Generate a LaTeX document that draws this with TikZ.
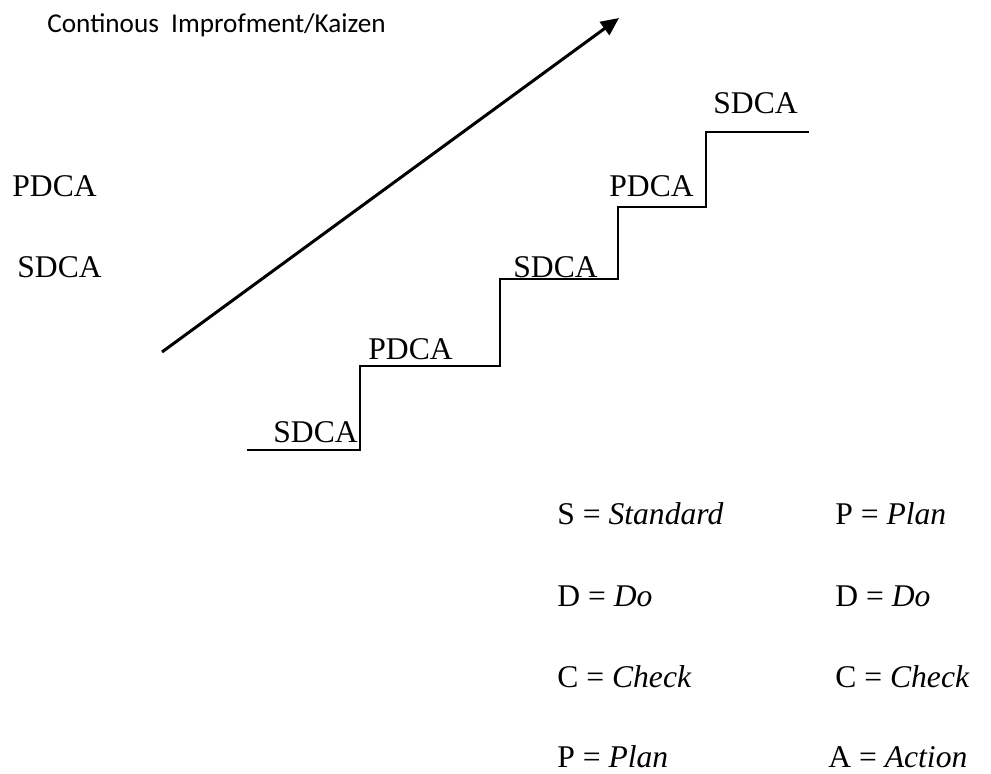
\documentclass[tikz,border=0pt]{standalone}
\usepackage{fontspec}
\setmainfont{Liberation Serif}
\newfontfamily\calibrifont{Carlito}
\usetikzlibrary{arrows.meta,positioning}

\begin{document}
\begin{tikzpicture}[
      x=0.5pt, y=-0.5pt,
      lbl/.style={anchor=base west, inner sep=0pt, font=\fontsize{15.8}{19}\selectfont},
      title/.style={anchor=base west, inner sep=0pt, font=\calibrifont\fontsize{13.6}{16}\selectfont},
      stair/.style={line width=1pt},
      rise/.style={-{Triangle[length=9pt, width=8pt]}, line width=1.5pt}
    ]
    \useasboundingbox (0,0) rectangle (991,774);
    % title and side labels
    \node[title] (kaizen) at (47,33) {Continous\ \ Improfment/Kaizen};
    \node[lbl] (pdcaleft) at (12,197) {PDCA};
    \node[lbl] (sdcaleft) at (17,278) {SDCA};
    % improvement arrow
    \coordinate (arrowtail) at (162,352);
    \coordinate (arrowtip) at (619,18);
    \draw[rise] (arrowtail) -- (arrowtip);
    % staircase
    \coordinate (s0) at (247,450);
    \coordinate (s1) at (360,366);
    \coordinate (s2) at (500,279);
    \coordinate (s3) at (618,207);
    \coordinate (s4) at (706,132);
    \coordinate (s5) at (809,132);
    \draw[stair] (s0) -| (s1) -| (s2) -| (s3) -| (s4) -- (s5);
    % step labels
    \node[lbl] (sdca1) at (273,443) {SDCA};
    \node[lbl] (pdca1) at (368,360) {PDCA};
    \node[lbl] (sdca2) at (513,278) {SDCA};
    \node[lbl] (pdca2) at (609,197) {PDCA};
    \node[lbl] (sdca3) at (713,114) {SDCA};
    % legend
    \node[lbl] (legS) at (557,525) {S = \textit{Standard}};
    \node[lbl] (legD) at (557,607) {D = \textit{Do}};
    \node[lbl] (legC) at (557,688) {C = \textit{Check}};
    \node[lbl] (legP) at (557,768) {P = \textit{Plan}};
    \node[lbl] (legP2) at (835,525) {P = \textit{Plan}};
    \node[lbl] (legD2) at (835,607) {D = \textit{Do}};
    \node[lbl] (legC2) at (835,688) {C = \textit{Check}};
    \node[lbl] (legA) at (828,768) {A = \textit{Action}};
  \end{tikzpicture}
\end{document}
